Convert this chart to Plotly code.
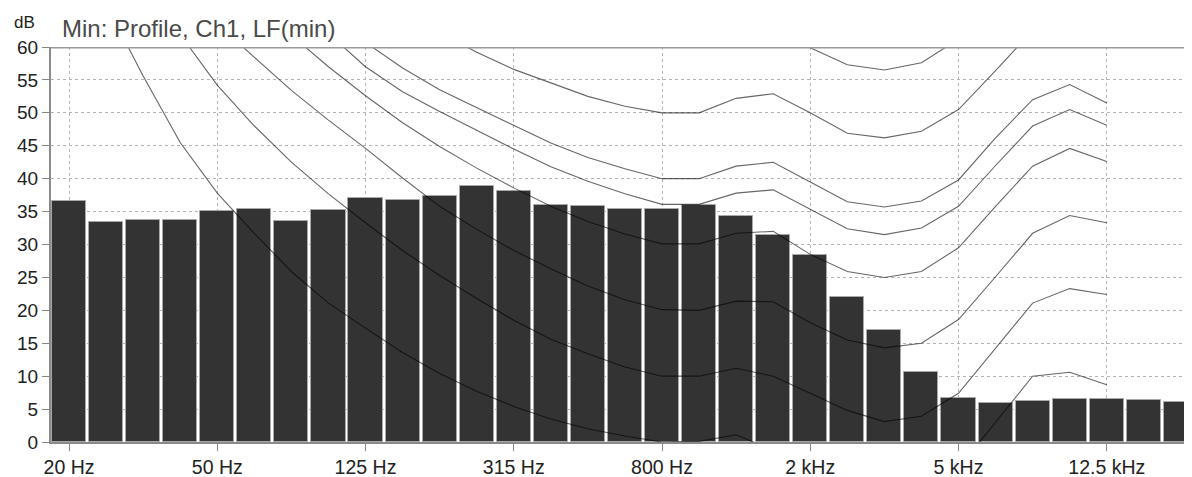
import plotly.graph_objects as go

# 1/3-octave band centres (20 Hz .. 20 kHz)
bands = ["20", "25", "31.5", "40", "50", "63", "80", "100", "125", "160", "200", "250",
         "315", "400", "500", "630", "800", "1k", "1.25k", "1.6k", "2k", "2.5k", "3.15k",
         "4k", "5k", "6.3k", "8k", "10k", "12.5k", "16k", "20k"]

# measured minimum spectrum (dB)
levels = [36.65, 33.36, 33.7, 33.7, 35.1, 35.4, 33.56, 35.2, 37.06, 36.75, 37.3, 38.83,
          38.07, 36.05, 35.8, 35.44, 35.34, 36.05, 34.27, 31.49, 28.4, 22.1, 17.0, 10.63,
          6.68, 5.92, 6.28, 6.53, 6.53, 6.38, 6.02]

# contour curves, 20 Hz .. 12.5 kHz
curve_bands = bands[:29]
c0 = [77, 66.5, 55.6, 45.5, 37.8, 31.7, 25.9, 21.1, 17.3, 13.6, 10.4, 7.7, 5.4, 3.5, 2.0,
      0.9, 0.0, 0.1, 1.1, -1.3, -3.7, -6.5, -8.3, -7.7, -4.0, 3.0, 10.0, 10.6, 8.7]
c10 = [88.5, 79, 70.4, 61.9, 54.2, 48, 42.5, 37.7, 33.3, 29.1, 25.3, 21.8, 18.5, 15.6, 13.4,
       11.4, 10.0, 10.0, 11.2, 10.0, 7.4, 4.8, 3.1, 3.9, 7.4, 14.3, 21.1, 23.3, 22.4]
c20 = [87, 81, 75, 69, 63.5, 58.5, 53.4, 48.9, 44.6, 40.1, 35.8, 32.3, 29.1, 26.3, 23.7,
       21.6, 20.1, 20.0, 21.4, 21.3, 18.1, 15.5, 14.3, 15.0, 18.6, 25.1, 31.7, 34.4, 33.3]
c30 = [95, 89.5, 84, 78.5, 73, 67.3, 61.8, 57, 52.6, 48.5, 44.9, 41.6, 38.6, 35.8, 33.5,
       31.6, 30.1, 30.1, 31.7, 32.0, 28.5, 25.9, 25.0, 25.9, 29.5, 35.8, 41.9, 44.6, 42.6]
c36 = [100, 95, 89.5, 84, 78.5, 73, 67.5, 62.05, 57.0, 53.2, 50.2, 47.3, 44.5, 41.8, 39.6,
       37.7, 36.1, 36.1, 37.8, 38.3, 35.3, 32.4, 31.5, 32.5, 35.8, 42.0, 48.0, 50.5, 48.1]
c40 = [103.5, 98, 92.5, 87, 81.5, 76, 70.5, 65.3, 60.7, 56.8, 53.5, 50.8, 48.2, 45.4, 43.2,
       41.5, 40.0, 40.0, 41.9, 42.5, 39.5, 36.5, 35.7, 36.6, 39.8, 46.2, 52.0, 54.3, 51.5]
c50 = [105.5, 101, 96.5, 92, 87.5, 83, 78.5, 74, 69.9, 65.8, 62.2, 59.2, 56.6, 54.5, 52.5,
       51.0, 50.0, 50.0, 52.2, 52.9, 50.0, 46.9, 46.2, 47.2, 50.5, 56.4, 62.5, 65.0, 62.5]
c60 = [112, 108, 104, 100, 96.5, 93, 89.5, 86, 82, 78, 74.5, 71, 68, 65.5, 63.5,
       61.5, 60.2, 60.2, 62.2, 62.8, 59.9, 57.3, 56.5, 57.6, 61.2, 67, 73, 76, 74]
curves = [c0, c10, c20, c30, c36, c40, c50, c60]

tick_bands = ["20", "50", "125", "315", "800", "2k", "5k", "12.5k"]
tick_text = ["20 Hz", "50 Hz", "125 Hz", "315 Hz", "800 Hz", "2 kHz", "5 kHz", "12.5 kHz"]
y_ticks = list(range(0, 61, 5))

FONT = "Liberation Sans, Arial, sans-serif"

fig = go.Figure()
fig.add_trace(go.Bar(
    x=bands, y=levels, width=0.92,
    marker=dict(color="#333333", line=dict(color="#a8a8a8", width=1)),
    hoverinfo="x+y", showlegend=False,
))
for c in curves:
    fig.add_trace(go.Scatter(
        x=curve_bands, y=c, mode="lines",
        line=dict(color="rgba(0,0,0,0.6)", width=1.1),
        showlegend=False, hoverinfo="skip",
    ))

# the page body has an 8px margin: the figure is sized/offset to compensate
fig.update_layout(
    width=1184, height=469,
    margin=dict(l=43, r=0, t=39, b=35, autoexpand=False),
    paper_bgcolor="white", plot_bgcolor="white",
    font=dict(family=FONT, color="#222"),
    bargap=0,
    xaxis=dict(
        type="category", categoryorder="array", categoryarray=bands,
        range=[-0.486, 30.30],
        tickmode="array", tickvals=tick_bands, ticktext=tick_text,
        showgrid=True, gridcolor="#b4b4b4", griddash="dot", gridwidth=1,
        ticks="outside", ticklen=7, tickcolor="#888", tickwidth=1,
        showline=True, linecolor="#8a8a8a", linewidth=2,
        tickfont=dict(size=19.5, color="#222", family=FONT),
        zeroline=False, automargin=False,
    ),
    yaxis=dict(
        range=[0, 60], tickmode="array", tickvals=y_ticks,
        showgrid=True, gridcolor="#b4b4b4", griddash="dot", gridwidth=1,
        ticks="outside", ticklen=7, tickcolor="#888", tickwidth=1,
        showline=True, linecolor="#8a8a8a", linewidth=2,
        tickfont=dict(size=19, color="#222", family=FONT),
        zeroline=False, automargin=False,
    ),
    shapes=[dict(type="line", xref="paper", yref="y", x0=0, x1=1, y0=60, y1=60,
                 line=dict(color="#9a9a9a", width=3), layer="above")],
    annotations=[
        dict(text="Min: Profile, Ch1, LF(min)", xref="paper", yref="paper",
             x=0.0081, y=1.046, xanchor="left", yanchor="middle", showarrow=False,
             font=dict(size=24, color="#4a4a4a", family=FONT)),
        dict(text="dB", xref="paper", yref="paper",
             x=-0.0342, y=1.062, xanchor="left", yanchor="middle", showarrow=False,
             font=dict(size=17, color="#222", family=FONT)),
    ],
)

fig.write_html("out.html")
